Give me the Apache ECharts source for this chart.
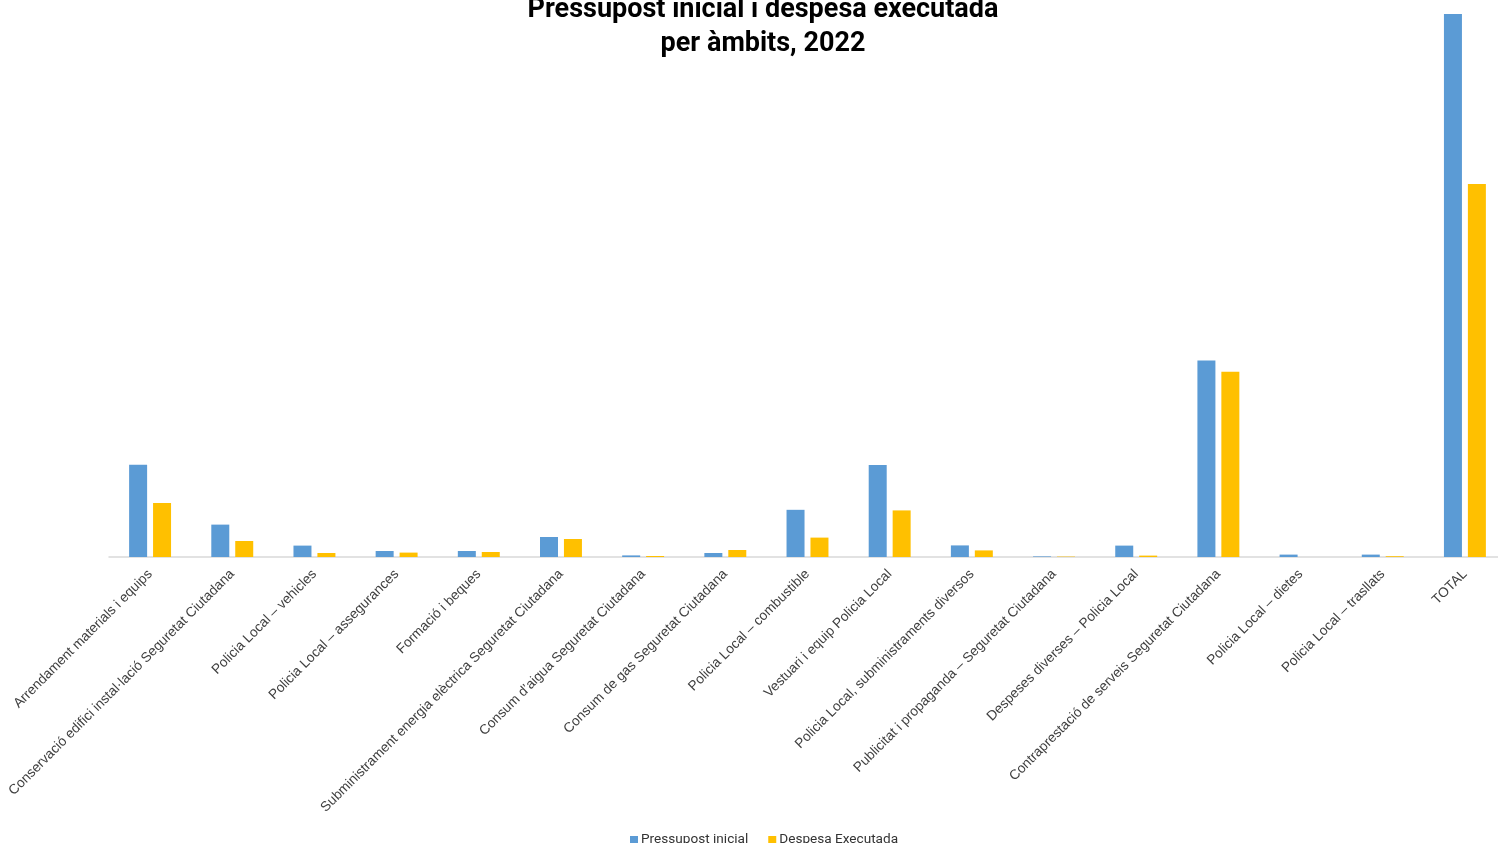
<!DOCTYPE html>
<html>
<head>
<meta charset="utf-8">
<script src="https://cdn.jsdelivr.net/npm/echarts@6/dist/echarts.min.js"></script>
<style>
  html, body { margin: 0; padding: 0; background: #fff; overflow: hidden; }
  #chart { width: 1506px; height: 843px; }
</style>
</head>
<body>
<div id="chart"></div>
<script>
// categories and values (relative units)
const ambits = [
  "Arrendament materials i equips",
  "Conservació edifici instal·lació Seguretat Ciutadana",
  "Policia Local – vehicles",
  "Policia Local – assegurances",
  "Formació i beques",
  "Subministrament energia elèctrica Seguretat Ciutadana",
  "Consum d’aigua Seguretat Ciutadana",
  "Consum de gas Seguretat Ciutadana",
  "Policia Local – combustible",
  "Vestuari i equip Policia Local",
  "Policia Local, subministraments diversos",
  "Publicitat i propaganda – Seguretat Ciutadana",
  "Despeses diverses – Policia Local",
  "Contraprestació de serveis Seguretat Ciutadana",
  "Policia Local – dietes",
  "Policia Local – trasllats",
  "TOTAL"
];
const pressupost = [462, 162, 57, 30, 30, 100, 8, 20, 236, 460, 58, 3, 57, 983, 12, 12, 2716];
const despesa = [270, 80, 20, 22, 25, 90, 5, 35, 97, 233, 33, 2, 7, 927, 0, 4, 1866];

let chart = echarts.init(document.getElementById("chart"));
let option = {
  animation: false,
  title: {
    text: "Pressupost inicial i despesa executada\nper àmbits, 2022",
    left: 758,
    textAlign: "center",
    top: -12,
    textStyle: {
      fontFamily: "Roboto",
      fontWeight: "bold",
      fontSize: 27,
      lineHeight: 34,
      color: "#000"
    }
  },
  legend: {
    data: ["Pressupost inicial", "Despesa Executada"],
    left: 625,
    top: 828,
    icon: "rect",
    itemWidth: 8,
    itemHeight: 8,
    itemGap: 20,
    textStyle: { fontFamily: "Roboto", fontSize: 13.6, color: "#333", padding: [0, 0, 0, -2] }
  },
  grid: {
    left: 109,
    right: 0,
    top: 14,
    bottom: 286
  },
  xAxis: {
    type: "category",
    data: ambits,
    axisLine: { lineStyle: { color: "#d9d9d9", width: 1.5 } },
    axisTick: { show: false },
    axisLabel: {
      interval: 0,
      rotate: 45,
      margin: 15,
      fontFamily: "Liberation Sans",
      fontSize: 13.7,
      color: "#404040"
    }
  },
  yAxis: {
    type: "value",
    min: 0,
    max: "dataMax",
    show: false,
    splitLine: { show: false }
  },
  series: [
    {
      name: "Pressupost inicial",
      type: "bar",
      data: pressupost,
      barWidth: 18,
      barGap: "33%",
      itemStyle: { color: "#5b9bd5" }
    },
    {
      name: "Despesa Executada",
      type: "bar",
      data: despesa,
      barWidth: 18,
      itemStyle: { color: "#ffc000" }
    }
  ]
};
chart.setOption(option);
</script>
</body>
</html>
